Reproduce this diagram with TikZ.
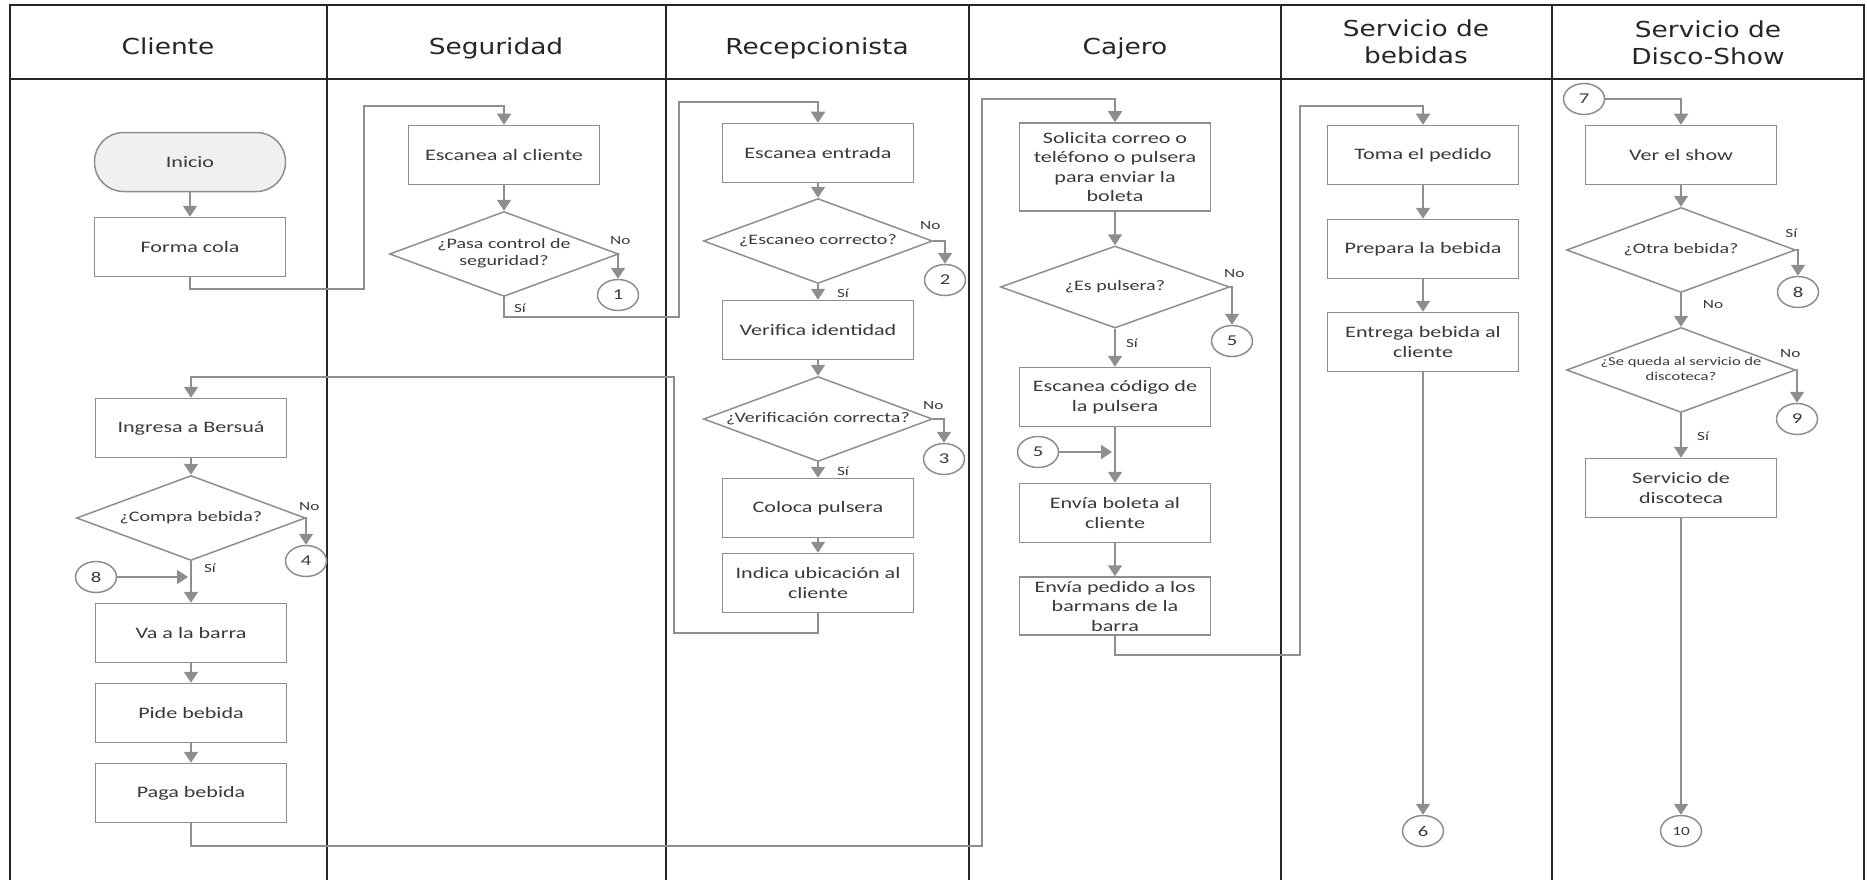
\documentclass[tikz,border=0pt]{standalone}
\usepackage{fontspec}
\usetikzlibrary{arrows.meta,shapes.geometric}
\newfontfamily\boxfont[FakeStretch=1.38]{Carlito}
\newfontfamily\headfont[FakeStretch=1.2]{DejaVu Sans}
\definecolor{flowgray}{HTML}{8E8E8E}
\definecolor{txtgray}{HTML}{3A3A3A}
\newcommand{\dectext}[1]{\makebox[0pt]{\begin{tabular}{@{}c@{}}#1\end{tabular}}}

\tikzset{
  lane/.style={line width=2pt, black!85},
  head/.style={font=\headfont\fontsize{22}{26.5}\selectfont, align=center, text=black!85},
  proc/.style={draw=flowgray, line width=1.5pt, rectangle, minimum width=191pt, minimum height=59pt, inner sep=1pt, align=center, font=\boxfont\fontsize{16}{19.5}\selectfont, text=txtgray, fill=white},
  term/.style={proc, rounded corners=29pt, fill=gray!12},
  decision/.style={draw=flowgray, line width=1.5pt, diamond, minimum width=229pt, minimum height=85pt, inner sep=0pt, font=\boxfont\fontsize{14.5}{17}\selectfont, text=txtgray, fill=white},
  link/.style={draw=flowgray, line width=1.5pt, ellipse, minimum width=41pt, minimum height=31pt, inner sep=0pt, font=\boxfont\fontsize{15}{18}\selectfont, text=txtgray},
  lbl/.style={font=\boxfont\fontsize{12.5}{14}\selectfont, text=txtgray, inner sep=0pt},
  flow/.style={draw=flowgray, line width=1.8pt, -{Triangle[length=11pt,width=14pt]}},
  wire/.style={draw=flowgray, line width=1.8pt},
}

\begin{document}
\begin{tikzpicture}[x=1pt,y=-1pt]
\useasboundingbox (0,0) rectangle (1867,880);

% the lanes
\draw[lane] (10,880) -- (10,5) -- (1864,5) -- (1864,880);
\draw[lane] (10,79) -- (1864,79);
\foreach \x in {327,666,969,1281,1552}
  \draw[lane] (\x,5) -- (\x,880);

% lane titles
\node[head, anchor=base] (hcliente) at (168,55) {Cliente};
\node[head, anchor=base] (hseguridad) at (496,55) {Seguridad};
\node[head, anchor=base] (hrecep) at (817,55) {Recepcionista};
\node[head, anchor=base] (hcajero) at (1125,55) {Cajero};
\node[head] (hbebidas) at (1416,42) {Servicio de\\bebidas};
\node[head] (hdisco) at (1708,43) {Servicio de\\Disco-Show};

% cliente
\node[term] (inicio) at (190,162) {Inicio};
\node[proc] (forma) at (190,247) {Forma cola};
\node[proc] (ingresa) at (191,428) {Ingresa a Bersuá};
\node[decision] (compra) at (191,518) {\dectext{¿Compra bebida?}};
\node[link] (c4) at (306,561) {4};
\node[link] (c8a) at (96,577) {8};
\coordinate (j8) at (188,577);
\node[proc] (barra) at (191,633) {Va a la barra};
\node[proc] (pide) at (191,713) {Pide bebida};
\node[proc] (paga) at (191,793) {Paga bebida};

% seguridad
\node[proc] (escanea) at (504,155) {Escanea al cliente};
\node[decision] (pasa) at (504,254) {\dectext{¿Pasa control de\\seguridad?}};
\node[link] (c1) at (618,295) {1};

% recepcionista
\node[proc] (entrada) at (818,153) {Escanea entrada};
\node[decision] (escaneo) at (818,241) {\dectext{¿Escaneo correcto?}};
\node[link] (c2) at (945,280) {2};
\node[proc] (verifica) at (818,330) {Verifica identidad};
\node[decision] (verif) at (818,419) {\dectext{¿Verificación correcta?}};
\node[link] (c3) at (944,459) {3};
\node[proc] (coloca) at (818,508) {Coloca pulsera};
\node[proc] (indica) at (818,583) {Indica ubicación al\\cliente};

% cajero
\node[proc, minimum height=88pt] (solicita) at (1115,167) {Solicita correo o\\teléfono o pulsera\\para enviar la\\boleta};
\node[decision, minimum height=82pt] (pulsera) at (1115,287) {\dectext{¿Es pulsera?}};
\node[link] (c5a) at (1232,341) {5};
\node[proc] (codigo) at (1115,397) {Escanea código de\\la pulsera};
\node[link] (c5b) at (1038,452) {5};
\coordinate (j5) at (1112,452);
\node[proc] (boleta) at (1115,513) {Envía boleta al\\cliente};
\node[proc, minimum height=58pt] (pedido) at (1115,606) {Envía pedido a los\\barmans de la\\barra};

% servicio de bebidas
\node[proc] (toma) at (1423,155) {Toma el pedido};
\node[proc] (prepara) at (1423,249) {Prepara la bebida};
\node[proc] (entrega) at (1423,342) {Entrega bebida al\\cliente};
\node[link] (c6) at (1423,831) {6};

% servicio de disco-show
\node[link] (c7) at (1584,99) {7};
\node[proc] (show) at (1681,155) {Ver el show};
\node[decision] (otra) at (1681,250) {\dectext{¿Otra bebida?}};
\node[link] (c8b) at (1798,292) {8};
\node[decision, font=\boxfont\fontsize{12}{14.5}\selectfont] (queda) at (1681,370) {\dectext{¿Se queda al servicio de\\discoteca?}};
\node[link] (c9) at (1797,419) {9};
\node[proc] (servdisc) at (1681,488) {Servicio de\\discoteca};
\node[link, font=\boxfont\fontsize{12.5}{14}\selectfont] (c10) at (1681,831) {10};

% bends of the long connectors
\coordinate (b1) at (364,289);
\coordinate (b2) at (364,106);
\coordinate (b3) at (679,317);
\coordinate (b4) at (679,102);
\coordinate (b5) at (674,633);
\coordinate (b6) at (674,377);
\coordinate (b7) at (982,846);
\coordinate (b8) at (982,99);
\coordinate (b9) at (1300,655);
\coordinate (b10) at (1300,106);

% connectors
\draw[flow] (inicio) -- (forma);
\draw[flow] (forma.south) |- (b1) -- (b2) -| (escanea.north);
\draw[flow] (escanea) -- (pasa);
\draw[flow] (pasa.east) -| (c1.north);
\draw[flow] (pasa.south) |- (b3) -- (b4) -| (entrada.north);
\draw[flow] (entrada) -- (escaneo);
\draw[flow] (escaneo.east) -| (c2.north);
\draw[flow] (escaneo) -- (verifica);
\draw[flow] (verifica) -- (verif);
\draw[flow] (verif.east) -| (c3.north);
\draw[flow] (verif) -- (coloca);
\draw[flow] (coloca) -- (indica);
\draw[flow] (indica.south) |- (b5) -- (b6) -| (ingresa.north);
\draw[flow] (ingresa) -- (compra);
\draw[flow] (compra.east) -| (c4.north);
\draw[flow] (compra) -- (barra);
\draw[flow] (c8a) -- (j8);
\draw[flow] (barra) -- (pide);
\draw[flow] (pide) -- (paga);
\draw[flow] (paga.south) |- (b7) -- (b8) -| (solicita.north);
\draw[flow] (solicita) -- (pulsera);
\draw[flow] (pulsera.east) -| (c5a.north);
\draw[flow] (pulsera) -- (codigo);
\draw[flow] (codigo) -- (boleta);
\draw[flow] (c5b) -- (j5);
\draw[flow] (boleta) -- (pedido);
\draw[flow] (pedido.south) |- (b9) -- (b10) -| (toma.north);
\draw[flow] (toma) -- (prepara);
\draw[flow] (prepara) -- (entrega);
\draw[flow] (entrega) -- (c6);
\draw[flow] (c7.east) -| (show.north);
\draw[flow] (show) -- (otra);
\draw[flow] (otra.east) -| (c8b.north);
\draw[flow] (otra) -- (queda);
\draw[flow] (queda.east) -| (c9.north);
\draw[flow] (queda) -- (servdisc);
\draw[flow] (servdisc) -- (c10);

% yes / no labels
\node[lbl] (pasano) at ([shift={(1,-13)}]pasa.east) {No};
\node[lbl] (pasasi) at ([shift={(16,11)}]pasa.south) {Sí};
\node[lbl] (escaneono) at ([shift={(-3,-15)}]escaneo.east) {No};
\node[lbl] (escaneosi) at ([shift={(25,9)}]escaneo.south) {Sí};
\node[lbl] (verifno) at ([shift={(0,-13)}]verif.east) {No};
\node[lbl] (verifsi) at ([shift={(25,9)}]verif.south) {Sí};
\node[lbl] (comprano) at ([shift={(3,-11)}]compra.east) {No};
\node[lbl] (comprasi) at ([shift={(19,7)}]compra.south) {Sí};
\node[lbl] (pulserano) at ([shift={(4,-13)}]pulsera.east) {No};
\node[lbl] (pulserasi) at ([shift={(17,15)}]pulsera.south) {Sí};
\node[lbl] (otrasi) at ([shift={(-5,-17)}]otra.east) {Sí};
\node[lbl] (otrano) at ([shift={(32,11)}]otra.south) {No};
\node[lbl] (quedano) at ([shift={(-6,-16)}]queda.east) {No};
\node[lbl] (quedasi) at ([shift={(22,23)}]queda.south) {Sí};

\end{tikzpicture}
\end{document}
